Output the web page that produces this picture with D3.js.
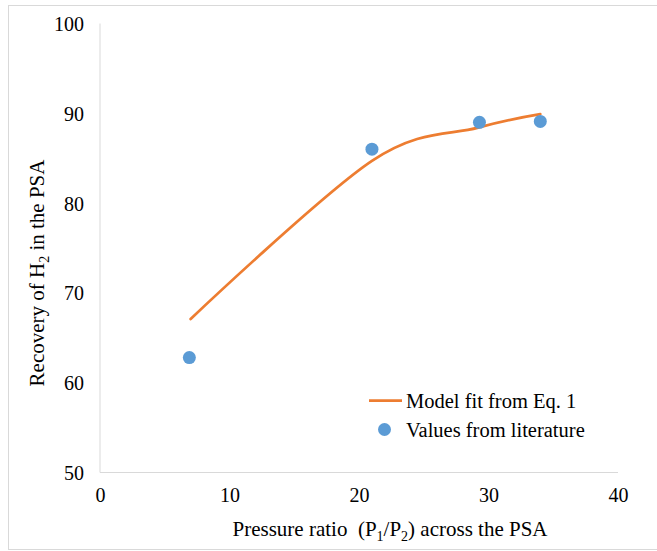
<!DOCTYPE html>
<html><head><meta charset="utf-8">
<script src="https://cdn.jsdelivr.net/npm/d3@7"></script>
<style>body{margin:0;background:#fff}svg{display:block}text{font-family:"Liberation Serif","Times New Roman",serif;fill:#000;white-space:pre}</style>
</head><body>
<script>
const xTicks = [0, 10, 20, 30, 40];
const yTicks = [50, 60, 70, 80, 90, 100];
const modelX = [7, 21, 29.2, 34];
const modelY = [67.1, 84.7, 88.4, 89.9];
const litX = [6.9, 21.0, 29.3, 34.0];
const litY = [62.8, 86.0, 89.0, 89.1];
const seriesNames = ["Model fit from Eq. 1", "Values from literature"];

const W = 657, H = 551;
const svg = d3.select("body").append("svg").attr("width", W).attr("height", H);
svg.append("rect").attr("x", 8.5).attr("y", 5.5).attr("width", 660).attr("height", 544)
  .attr("fill", "none").attr("stroke", "#d9d9d9");

const x = d3.scaleLinear().domain([0, 40]).range([100, 618]);
const y = d3.scaleLinear().domain([50, 100]).range([472.5, 23.5]);

svg.append("line").attr("x1", x(0)).attr("x2", x(0)).attr("y1", y(100)).attr("y2", y(50)).attr("stroke", "#d9d9d9").attr("stroke-width", 1);
svg.append("line").attr("x1", x(0)).attr("x2", x(40)).attr("y1", y(50)).attr("y2", y(50)).attr("stroke", "#d9d9d9").attr("stroke-width", 1);

const xAxis = d3.axisBottom(x).tickValues(xTicks).tickSize(0).tickPadding(0);
const gx = svg.append("g").attr("transform", `translate(0,${y(50)})`).call(xAxis);
gx.select(".domain").remove();
gx.selectAll("text").attr("y", 22).attr("dy", "0.35em").style("font-size", "20px").style("font-family", "Liberation Serif");

const yAxis = d3.axisLeft(y).tickValues(yTicks).tickSize(0).tickPadding(0);
const gy = svg.append("g").attr("transform", `translate(${x(0)},0)`).call(yAxis);
gy.select(".domain").remove();
gy.selectAll("text").attr("x", -16).attr("dy", "0.35em").style("font-size", "20px").style("font-family", "Liberation Serif");

const pts = modelX.map((v, i) => [v, modelY[i]]);
const line = d3.line().x(d => x(d[0])).y(d => y(d[1])).curve(d3.curveCardinal.tension(0));
svg.append("path").attr("d", line(pts)).attr("fill", "none").attr("stroke", "#ED7D31").attr("stroke-width", 2.75).attr("stroke-linecap", "round");

svg.selectAll("circle.lit").data(litX.map((v, i) => [v, litY[i]])).enter().append("circle")
  .attr("class", "lit").attr("cx", d => x(d[0])).attr("cy", d => y(d[1])).attr("r", 6.5).attr("fill", "#5B9BD5");

svg.append("text").attr("x", 390).attr("y", 529).attr("dy", "0.35em").attr("text-anchor", "middle").style("font-size", "21px")
  .html('Pressure ratio  (P<tspan dy="5" font-size="14px">1</tspan><tspan dy="-5">/P</tspan><tspan dy="5" font-size="14px">2</tspan><tspan dy="-5">) across the PSA</tspan>');
svg.append("text").attr("transform", "translate(37,273) rotate(-90)").attr("dy", "0.35em").attr("text-anchor", "middle").style("font-size", "21px")
  .html('Recovery of H<tspan dy="5" font-size="14px">2</tspan><tspan dy="-5"> in the PSA</tspan>');

svg.append("line").attr("x1", 369).attr("x2", 402).attr("y1", 400.5).attr("y2", 400.5).attr("stroke", "#ED7D31").attr("stroke-width", 2.75);
svg.append("text").attr("x", 406).attr("y", 400.5).attr("dy", "0.35em").style("font-size", "20.5px").text(seriesNames[0]);
svg.append("circle").attr("cx", 384.5).attr("cy", 429.5).attr("r", 6.5).attr("fill", "#5B9BD5");
svg.append("text").attr("x", 406).attr("y", 429.5).attr("dy", "0.35em").style("font-size", "20.5px").text(seriesNames[1]);
</script>
</body></html>
